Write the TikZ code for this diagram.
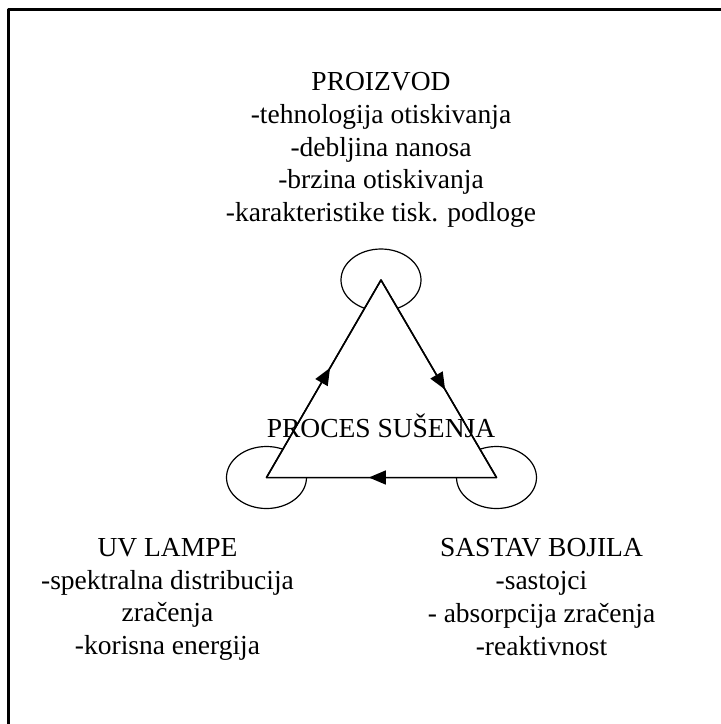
\documentclass[tikz,border=0pt]{standalone}
\usepackage{fontspec}
\setmainfont{Liberation Serif}
\usetikzlibrary{arrows.meta}
\usetikzlibrary{decorations.markings}
\usetikzlibrary{positioning}

\tikzset{
  factor text/.style={align=center, inner sep=0pt, anchor=base,
    font=\fontsize{27.5}{32.7}\selectfont},
  mid arrow/.style={postaction={decorate}, decoration={markings,
    mark=at position 0.555 with {\arrow{Triangle[length=17pt,width=14pt]}}}},
  loop/.style={line width=1.2pt, x radius=40pt, y radius=31pt}
}

\begin{document}
\begin{tikzpicture}[line cap=round,line join=round,x=1pt,y=-1pt]
\useasboundingbox (0,0) rectangle (721,724);
\clip (0,0) rectangle (721,724);
% frame, only the left and top sides fall inside the picture
\draw [line width=2.4pt] (8.5,9.5) rectangle (780,790);
\coordinate (top) at (381,280);
\coordinate (left) at (266.5,477.5);
\coordinate (right) at (496.5,477.5);
\draw [loop] (top) ellipse [];
\draw [loop] (left) ellipse [];
\draw [loop] (right) ellipse [];
\filldraw [fill=white, line width=1.5pt] (top) -- (right) -- (left) -- cycle;
\draw [mid arrow, line width=1.5pt] (top) -- (right);
\draw [mid arrow, line width=1.5pt] (right) -- (left);
\draw [mid arrow, line width=1.5pt] (left) -- (top);
\node [factor text] (proces) at (381,437.5) {PROCES SUŠENJA};
\node [factor text] (proizvod) at (381,221.5) {PROIZVOD\\-tehnologija otiskivanja\\-debljina nanosa\\-brzina otiskivanja\\-karakteristike tisk. podloge};
\node [factor text] (lampe) at (167.5,654.5) {UV LAMPE\\-spektralna distribucija\\zračenja\\-korisna energija};
\node [factor text] (bojilo) at (541.5,655) {SASTAV BOJILA\\-sastojci\\- absorpcija zračenja\\-reaktivnost};
\end{tikzpicture}
\end{document}
